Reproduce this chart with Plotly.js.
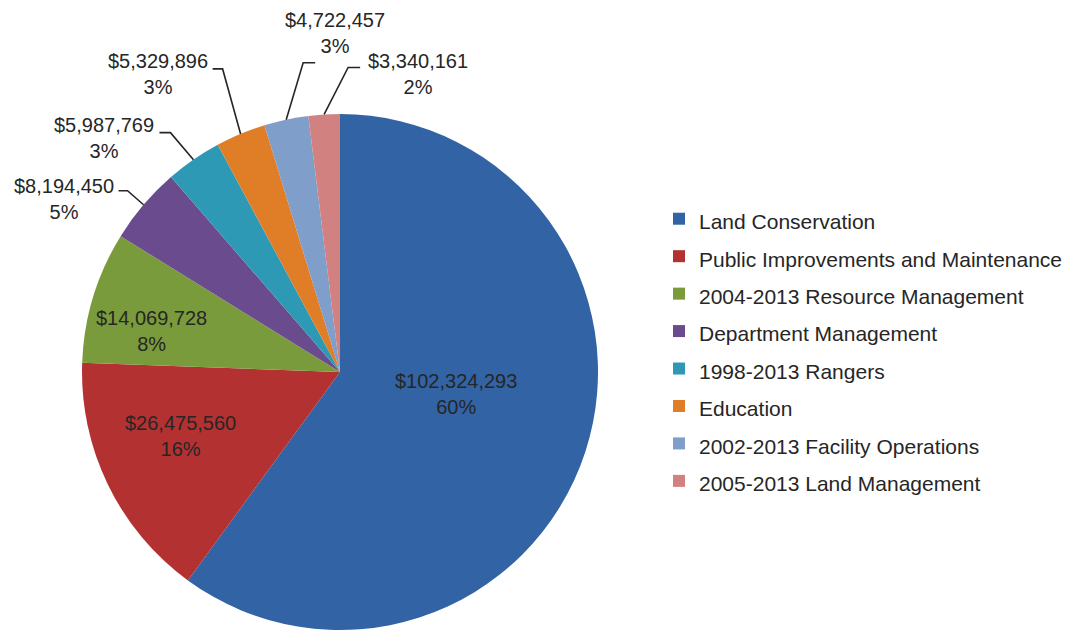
<!DOCTYPE html>
<html>
<head>
<meta charset="utf-8">
<script src="https://cdn.plot.ly/plotly-3.0.1.min.js"></script>
<style>
  html, body { margin: 0; padding: 0; background: #ffffff; }
  #chart { width: 1066px; height: 631px; }
</style>
</head>
<body>
<div id="chart"></div>
<script>
// ---- Data ----
const categories = [
  "Land Conservation",
  "Public Improvements and Maintenance",
  "2004-2013 Resource Management",
  "Department Management",
  "1998-2013 Rangers",
  "Education",
  "2002-2013 Facility Operations",
  "2005-2013 Land Management"
];
const amounts = [102324293, 26475560, 14069728, 8194450, 5987769, 5329896, 4722457, 3340161];
const percentLabels = ["60%", "16%", "8%", "5%", "3%", "3%", "3%", "2%"];
const sliceColors = ["#3163a5", "#b33131", "#7a9b3b", "#6a4b8e", "#2e99b5", "#e07d27", "#7f9eca", "#d28181"];

// ---- Layout constants ----
const W = 1066, H = 631;
const FONT = "'Liberation Sans', Arial, sans-serif";
const TEXT_COLOR = "#262626";
const LABEL_SIZE = 20;
const LEGEND_TEXT_SIZE = 21;
const pieLeft = 82, pieRight = 598, pieTop = 114, pieBottom = 630;
const cx = (pieLeft + pieRight) / 2, cy = (pieTop + pieBottom) / 2, R = (pieRight - pieLeft) / 2;

// label placement for inside labels: fraction of radius, angle tweak (deg) from slice middle
const insideLayout = {
  0: {rf: 0.457, da: -7.3},
  1: {rf: 0.668, da: 4.1},
  2: {rf: 0.746, da: -4.6}
};
// leader-line placement for the slices whose labels sit outside
// elbow offset from slice edge, horizontal run, label offset from end of run
const leaderLayout = {
  3: {ex: -16, ey: -14, run: -9,  lx: -3, ly: 8,   anchor: "right"},
  4: {ex: -23, ey: -27, run: -11, lx: -3, ly: 5,   anchor: "right"},
  5: {ex: -18, ey: -65, run: -10, lx: -3, ly: 5,   anchor: "right"},
  6: {ex: 17,  ey: -57, run: 12,  lx: 20, ly: -30, anchor: "center"},
  7: {ex: 24,  ey: -47, run: 12,  lx: 6,  ly: 7,   anchor: "left"}
};

const total = amounts.reduce((a, b) => a + b, 0);
const fmt = v => "$" + v.toLocaleString("en-US");
const px2x = px => px / W;
const py2y = py => 1 - py / H;

const annotations = [];
const shapes = [];
let cum = 0;
amounts.forEach((v, i) => {
  const frac = v / total;
  const mid = (cum + frac / 2) * 2 * Math.PI; // clockwise from 12 o'clock
  cum += frac;
  const label = fmt(v) + "<br>" + percentLabels[i];
  const font = {family: FONT, size: LABEL_SIZE, color: TEXT_COLOR};
  if (insideLayout[i]) {
    const P = insideLayout[i];
    const a = mid + P.da * Math.PI / 180;
    annotations.push({
      xref: "paper", yref: "paper",
      x: px2x(cx + P.rf * R * Math.sin(a)), y: py2y(cy - P.rf * R * Math.cos(a)),
      xanchor: "center", yanchor: "middle", align: "center",
      showarrow: false, text: label, font: font
    });
    return;
  }
  const L = leaderLayout[i];
  const x0 = cx + R * Math.sin(mid);
  const y0 = cy - R * Math.cos(mid);
  const x1 = x0 + L.ex, y1 = y0 + L.ey;
  const x2 = x1 + L.run, y2 = y1;
  shapes.push({
    type: "path", xref: "paper", yref: "paper",
    path: `M${px2x(x0)},${py2y(y0)} L${px2x(x1)},${py2y(y1)} L${px2x(x2)},${py2y(y2)}`,
    line: {color: TEXT_COLOR, width: 1.6}
  });
  annotations.push({
    xref: "paper", yref: "paper",
    x: px2x(x2 + L.lx), y: py2y(y2 + L.ly),
    xanchor: L.anchor, yanchor: "middle", align: "center",
    showarrow: false, text: label, font: font
  });
});

const trace = {
  type: "pie",
  labels: categories.map(c => `<span style="font-size:${LEGEND_TEXT_SIZE}px">${c}</span>`),
  values: amounts,
  textinfo: "none",
  sort: false,
  direction: "clockwise",
  rotation: 0,
  marker: {colors: sliceColors, line: {width: 0}},
  domain: {x: [px2x(pieLeft), px2x(pieRight)], y: [py2y(pieBottom), py2y(pieTop)]},
  hoverinfo: "label+value+percent"
};

const layout = {
  width: W, height: H,
  margin: {l: 0, r: 0, t: 0, b: 0, autoexpand: false},
  paper_bgcolor: "#ffffff",
  plot_bgcolor: "#ffffff",
  showlegend: true,
  legend: {
    x: px2x(659), xanchor: "left",
    y: py2y(350), yanchor: "middle",
    font: {family: FONT, size: 26.5, color: TEXT_COLOR},
    bgcolor: "rgba(0,0,0,0)"
  },
  annotations: annotations,
  shapes: shapes
};

Plotly.newPlot("chart", [trace], layout, {displayModeBar: false, staticPlot: true});
</script>
</body>
</html>
